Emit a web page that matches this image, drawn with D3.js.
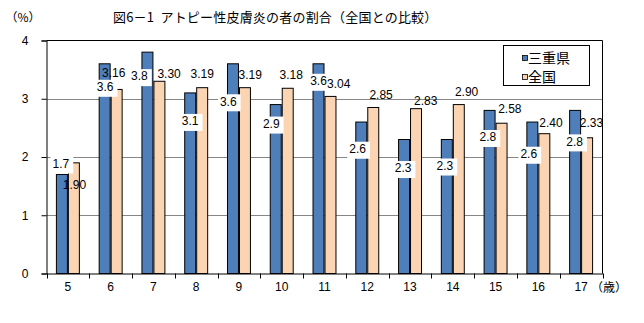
<!DOCTYPE html>
<html>
<head>
<meta charset="utf-8">
<script src="https://cdn.jsdelivr.net/npm/d3@7"></script>
<style>
  html, body { margin: 0; padding: 0; background: #fff; }
  svg { display: block; }
  .num { font-family: "Liberation Sans", Arial, sans-serif; font-size: 12px; fill: #000; }
  .jp { font-family: "Noto Sans CJK JP", sans-serif; fill: #000; }
</style>
</head>
<body>
<svg id="chart" width="644" height="323"></svg>
<script>
// Ages (years) on the horizontal axis
const categories = ["5", "6", "7", "8", "9", "10", "11", "12", "13", "14", "15", "16", "17"];
// Share of students with atopic dermatitis (%)
const mieValues = [1.7, 3.6, 3.8, 3.1, 3.6, 2.9, 3.6, 2.6, 2.3, 2.3, 2.8, 2.6, 2.8];
const nationalValues = [1.90, 3.16, 3.30, 3.19, 3.19, 3.18, 3.04, 2.85, 2.83, 2.90, 2.58, 2.40, 2.33];
const seriesNames = ["三重県", "全国"];
const yTicks = [0, 1, 2, 3, 4];

const titleText = "図6－1  アトピー性皮膚炎の者の割合（全国との比較）";

const svg = d3.select("#chart");
const plot = { left: 46.5, right: 602.5, top: 40.5, bottom: 273.5 };
const colors = { mie: "#4f7fbb", national: "#fbd5b3" };

const x = d3.scaleBand().domain(categories).range([plot.left, plot.right])
  .paddingInner(0.44).paddingOuter(0.22);
const xCell = d3.scaleBand().domain(categories).range([plot.left, plot.right]).padding(0);
const xs = d3.scaleBand().domain(seriesNames).range([0, x.bandwidth()]);
const y = d3.scaleLinear().domain([0, 4]).range([plot.bottom, plot.top]);

// gridlines
svg.append("g").selectAll("line").data(yTicks.filter(t => t > 0 && t < 4)).join("line")
  .attr("x1", plot.left).attr("x2", plot.right)
  .attr("y1", d => Math.round(y(d)) + 0.5).attr("y2", d => Math.round(y(d)) + 0.5)
  .attr("stroke", "#868686").attr("stroke-width", 1);

// bars
const rows = categories.map((c, i) => ({ c, i, mie: mieValues[i], nat: nationalValues[i] }));
const bars = svg.append("g").attr("stroke", "#000").attr("stroke-width", 1);
bars.selectAll("rect.mie").data(rows).join("rect").attr("class", "mie")
  .attr("x", d => x(d.c) + xs(seriesNames[0]) + 0.5)
  .attr("y", d => y(d.mie))
  .attr("width", xs.bandwidth() - 1)
  .attr("height", d => plot.bottom - y(d.mie))
  .attr("fill", colors.mie);
bars.selectAll("rect.nat").data(rows).join("rect").attr("class", "nat")
  .attr("x", d => x(d.c) + xs(seriesNames[1]) + 0.5)
  .attr("y", d => y(d.nat))
  .attr("width", xs.bandwidth() - 1)
  .attr("height", d => plot.bottom - y(d.nat))
  .attr("fill", colors.national);

// plot frame (top and right edges)
svg.append("path")
  .attr("d", `M${plot.left},${plot.top}H${plot.right}V${plot.bottom}`)
  .attr("fill", "none").attr("stroke", "#000");

// y axis
const yAxis = svg.append("g").attr("transform", `translate(${plot.left},0)`)
  .call(d3.axisLeft(y).tickValues(yTicks).tickSize(5).tickPadding(14).tickFormat(d3.format("d")));
yAxis.select(".domain").attr("stroke", "#000");
yAxis.selectAll("text").attr("class", "num").attr("font-size", null).attr("font-family", null)
  .attr("text-anchor", "middle").attr("dx", "-0.2em");

// x axis: labels centred in cells, ticks on cell boundaries
const xAxis = svg.append("g").attr("transform", `translate(0,${plot.bottom})`)
  .call(d3.axisBottom(xCell).tickSize(0).tickPadding(9));
xAxis.select(".domain").attr("stroke", "#000");
xAxis.selectAll("text").attr("class", "num").attr("font-size", null).attr("font-family", null);
const bounds = categories.map(c => xCell(c)).concat([xCell.range()[1]]);
svg.append("g").selectAll("line").data(bounds).join("line")
  .attr("x1", d => Math.round(d) + 0.5).attr("x2", d => Math.round(d) + 0.5)
  .attr("y1", plot.bottom).attr("y2", plot.bottom + 5)
  .attr("stroke", "#000");

// value labels, each nudged from its bar's top centre
const mieShift = [[-1, -11], [0.5, 23], [-8, 24], [0, 28], [-4.7, 37.5], [-4.5, 19], [0, 17],
  [-3.7, 26.7], [-1, 28.5], [-2, 26], [-1.7, 26.6], [-3.6, 31.7], [-0.5, 31]];
const natShift = [[0.6, 21.4], [-3, -17], [9.7, -8], [0, -14.4], [5.3, -12.7], [3.5, -14], [8.3, -12.6],
  [7.8, -12.8], [9.7, -8.2], [7.8, -12.7], [8.3, -14.4], [6.7, -10.7], [4.3, -14.8]];

const mieLabels = svg.append("g");
rows.forEach(d => {
  const cx = x(d.c) + xs(seriesNames[0]) + xs.bandwidth() / 2 + mieShift[d.i][0];
  const cy = y(d.mie) + mieShift[d.i][1];
  const g = mieLabels.append("g");
  const t = g.append("text").attr("class", "num").attr("x", cx).attr("y", cy + 4.3)
    .attr("text-anchor", "middle").text(d.mie.toFixed(1));
  const w = t.node().getComputedTextLength();
  g.insert("rect", "text").attr("x", cx - w / 2 - 2).attr("y", cy - 7)
    .attr("width", w + 6).attr("height", 17).attr("fill", "#fff");
});
svg.append("g").selectAll("text").data(rows).join("text").attr("class", "num")
  .attr("x", d => x(d.c) + xs(seriesNames[1]) + xs.bandwidth() / 2 + natShift[d.i][0])
  .attr("y", d => y(d.nat) + natShift[d.i][1] + 4.3)
  .attr("text-anchor", "middle")
  .text(d => d.nat.toFixed(2));

// titles and units
svg.append("text").attr("class", "jp").attr("x", 113).attr("y", 22).attr("font-size", 13)
  .attr("letter-spacing", 0.2).style("white-space", "pre")
  .text(titleText);
svg.append("text").attr("class", "jp").attr("x", 23).attr("y", 22).attr("font-size", 12)
  .attr("text-anchor", "middle").text("（%）");
svg.append("text").attr("class", "jp").attr("x", 609).attr("y", 292).attr("font-size", 12)
  .attr("text-anchor", "middle").text("（歳）");

// legend
const legend = svg.append("g");
legend.append("rect").attr("x", 503.5).attr("y", 45.5).attr("width", 86).attr("height", 40)
  .attr("fill", "#fff").attr("stroke", "#000");
const legendColors = [colors.mie, colors.national];
seriesNames.forEach((name, i) => {
  const cy = 58 + i * 19;
  legend.append("rect").attr("x", 522.5).attr("y", cy - 2.5).attr("width", 5).attr("height", 5)
    .attr("fill", legendColors[i]).attr("stroke", "#000").attr("stroke-width", 0.8);
  legend.append("text").attr("class", "jp").attr("x", 528).attr("y", cy + 5)
    .attr("font-size", 14).text(name);
});
</script>
</body>
</html>
